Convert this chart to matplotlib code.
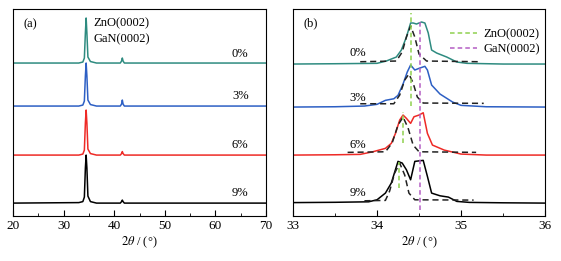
import matplotlib.pyplot as plt

plt.rcParams['font.family'] = ['Liberation Serif', 'DejaVu Serif']
plt.rcParams['mathtext.fontset'] = 'stix'
plt.rcParams['font.size'] = 9

labels = ['0%', '3%', '6%', '9%']
colors = ['#2e8b80', '#2d5fc4', '#ee2a26', '#000000']

# panel (a): full scan, heights above each baseline
offsets_a = [153, 110, 61, 13]
x_a = [20, 33.0, 33.8, 34.1, 34.3, 34.45, 34.6, 34.8, 35.3, 36.5, 41.2, 41.45, 41.6, 41.75, 42.0, 70]
y_a = [
    [0, 0, 1, 5, 30, 45, 30, 6, 1.5, 0, 0, 2, 5, 2, 0, 0],
    [0, 0, 1, 5, 30, 43, 30, 6, 1.5, 0, 0, 2, 6, 2, 0, 0],
    [0, 0, 1, 5, 32, 45, 32, 6, 1.5, 0, 0, 1.5, 3.5, 1.5, 0, 0],
    [0, 0.5, 1.5, 6, 35, 48, 35, 7, 1.5, 0, 0, 1.5, 3, 1.5, 0, 0],
]
label_y_a = [162, 120, 71, 23]

# panel (b): zoom around the (0002) peak
offsets_b = [152, 109, 61, 13]
x_b0 = [33.0, 33.5, 34.0, 34.11, 34.23, 34.29, 34.35, 34.40, 34.43, 34.47, 34.53, 34.57, 34.61, 34.65, 34.71, 34.83, 34.95, 35.07, 35.5, 36.0]
y_b0 = [0, 0.3, 0.7, 3, 7, 14, 27, 41, 41, 40, 42, 41, 31, 14, 11, 7, 2, 0.7, 0, 0]
x_b1 = [33.0, 33.5, 33.85, 34.0, 34.1, 34.2, 34.25, 34.31, 34.36, 34.40, 34.45, 34.51, 34.57, 34.60, 34.65, 34.75, 34.9, 35.0, 35.3, 36.0]
y_b1 = [0, 0.3, 1, 2.7, 6.7, 8.3, 11.7, 23, 35, 42, 37, 39, 40.7, 37, 22, 13, 5, 1.7, 0.3, 0]
x_b2 = [33.0, 33.5, 33.8, 33.95, 34.1, 34.17, 34.22, 34.27, 34.31, 34.35, 34.40, 34.44, 34.50, 34.55, 34.60, 34.66, 34.8, 35.0, 35.3, 36.0]
y_b2 = [0, 0.3, 0.7, 3.3, 6.7, 11.7, 21.7, 35, 40, 36.7, 31.7, 38.3, 40, 42.3, 21.7, 10, 5, 1, 0, 0]
x_b3 = [33.0, 33.5, 33.9, 34.0, 34.1, 34.17, 34.25, 34.30, 34.35, 34.40, 34.45, 34.55, 34.60, 34.65, 34.75, 34.85, 34.95, 35.1, 35.5, 36.0]
y_b3 = [0.5, 0.8, 1.3, 3.3, 10, 20, 41.7, 40, 33.3, 23.3, 41.7, 42.7, 26.7, 10, 7.3, 6, 1.7, 0.7, 0.3, 0]
x_b = [x_b0, x_b1, x_b2, x_b3]
y_b = [y_b0, y_b1, y_b2, y_b3]
label_y_b = [163, 118, 71, 23]

# fitted ZnO component (black dashed)
fx_b = [
    [33.8, 34.23, 34.30, 34.35, 34.40, 34.45, 34.50, 34.59, 35.22],
    [33.8, 34.2, 34.27, 34.33, 34.38, 34.43, 34.48, 34.55, 35.27],
    [33.65, 34.1, 34.18, 34.25, 34.31, 34.37, 34.43, 34.5, 35.18],
    [33.85, 34.1, 34.15, 34.21, 34.27, 34.33, 34.38, 34.45, 35.15],
]
fy_b = [
    [2.3, 3, 12, 27, 38, 27, 10, 3, 2.3],
    [3.3, 3.3, 12, 27, 33, 24, 10, 4, 3.7],
    [2.7, 3.3, 12, 30, 38, 27, 10, 3.3, 2.7],
    [2.3, 2.7, 12, 30, 40, 28, 10, 3.3, 3],
]

# reference peak positions
zno_x = [34.40, 34.31, 34.26]
zno_ymin = [110, 73, 28]
zno_ymax = [203, 104, 54]
gan_x = 34.51

fig = plt.figure(figsize=(5.61, 2.61), dpi=100)
ax1 = fig.add_axes([0.0232, 0.172, 0.4510, 0.7935])
ax2 = fig.add_axes([0.5223, 0.172, 0.4492, 0.7935])

for i in range(4):
    ax1.plot(x_a, [v + offsets_a[i] for v in y_a[i]], color=colors[i], lw=1.1)
    ax1.text(64.9, label_y_a[i], labels[i], ha='center', va='center')
ax1.text(22.0, 192, '(a)', va='center')
ax1.text(35.9, 193, 'ZnO(0002)', va='center')
ax1.text(35.9, 177, 'GaN(0002)', va='center')
ax1.set_xlim(20, 70)
ax1.set_xticks([20, 30, 40, 50, 60, 70])
ax1.set_xticks([25, 35, 45, 55, 65], minor=True)

for i in range(4):
    ax2.plot(x_b[i], [v + offsets_b[i] for v in y_b[i]], color=colors[i], lw=1.1)
    ax2.plot(fx_b[i], [v + offsets_b[i] for v in fy_b[i]], color='#222222', lw=1.1, ls=(0, (4, 2.5)))
    ax2.text(33.77, label_y_b[i], labels[i], ha='center', va='center')
for i in range(3):
    ax2.plot([zno_x[i], zno_x[i]], [zno_ymin[i], zno_ymax[i]], color='#8fd14f', lw=1.1, ls=(0, (3, 2)))
ax2.plot([gan_x, gan_x], [6, 196], color='#b45ec4', lw=1.1, ls=(0, (3, 2)))
ax2.plot([], [], color='#8fd14f', lw=1.1, ls=(0, (3, 2)), label='ZnO(0002)')
ax2.plot([], [], color='#b45ec4', lw=1.1, ls=(0, (3, 2)), label='GaN(0002)')
ax2.legend(loc='upper right', bbox_to_anchor=(1.01, 0.945), frameon=False,
           handlelength=2.2, handletextpad=0.5, labelspacing=0.25, borderaxespad=0.2)
ax2.text(33.13, 193, '(b)', va='center')
ax2.set_xlim(33, 36)
ax2.set_xticks([33, 34, 35, 36])
ax2.set_xticks([33.5, 34.5, 35.5], minor=True)

for ax in (ax1, ax2):
    ax.set_ylim(0, 207)
    ax.set_yticks([])
    ax.tick_params(axis='x', which='both', direction='in', labelsize=9.5)
    ax.tick_params(axis='x', which='major', length=4, pad=3)
    ax.tick_params(axis='x', which='minor', length=2.5)
    ax.set_xlabel(r'$2\theta$ / (°)', labelpad=2)

plt.savefig('out.png', dpi=100)
